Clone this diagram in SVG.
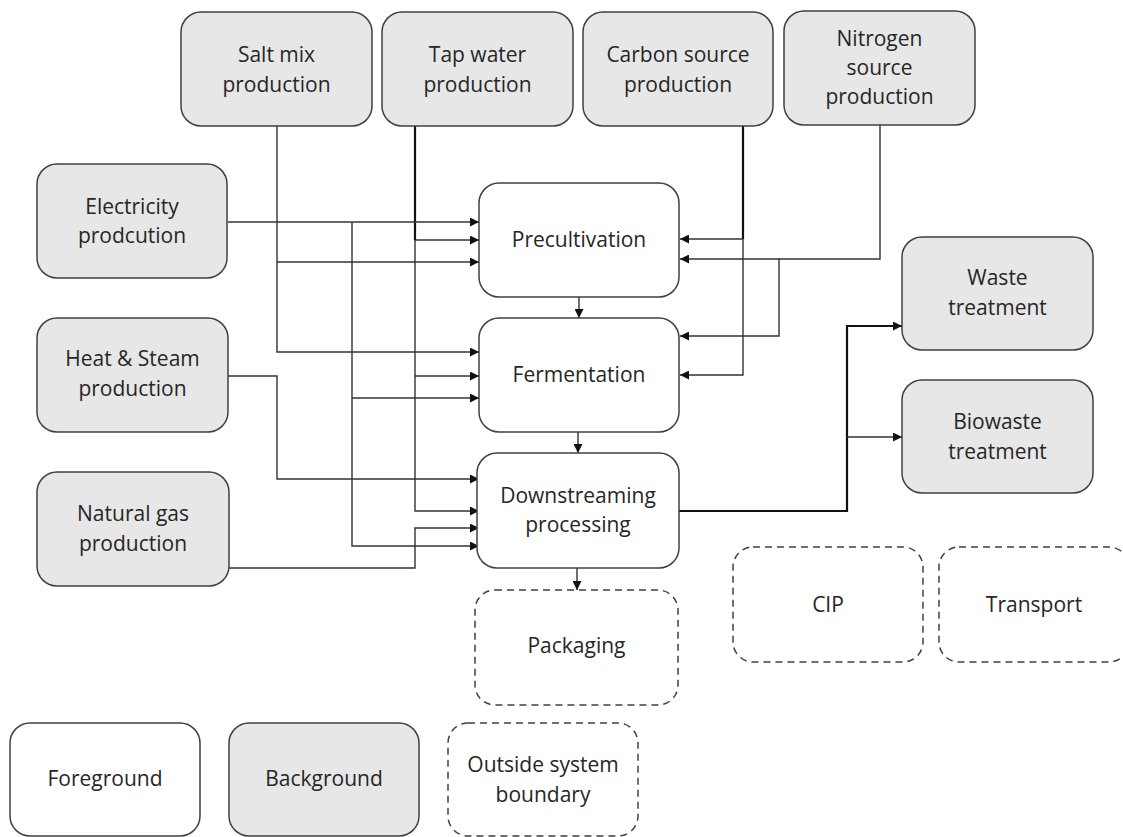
<svg xmlns="http://www.w3.org/2000/svg" width="1123" height="837" viewBox="0 0 1123 837">
<style>
.bg{fill:#e7e7e7;stroke:#404040;stroke-width:1.5}
.fg{fill:#ffffff;stroke:#404040;stroke-width:1.5}
.ob{fill:#ffffff;stroke:#404040;stroke-width:1.5;stroke-dasharray:7,5}
text{font-family:"Open Sans","Liberation Sans",sans-serif;font-size:21px;fill:#262626;text-anchor:middle}
.c{fill:none;stroke:#333;stroke-width:1.4}
.t{fill:none;stroke:#111;stroke-width:2.2}
.a{marker-end:url(#arr)}
</style>
<defs>
<marker id="arr" viewBox="0 0 10 10" refX="10" refY="5" markerWidth="10" markerHeight="9" markerUnits="userSpaceOnUse" orient="auto">
<path d="M0,0 L10,5 L0,10 z" fill="#111"/>
</marker>
</defs>
<g id="connectors">
<path class="c a" d="M277,126 V352 H479"/>
<path class="c a" d="M277,262 H479"/>
<path class="t" d="M415,122 V240"/>
<path class="c a" d="M415,240 V511 H479"/>
<path class="c a" d="M415,240 H479"/>
<path class="c a" d="M415,376 H479"/>
<path class="c a" d="M228,222 H479"/>
<path class="c a" d="M352,222 V546 H479"/>
<path class="c a" d="M352,398 H479"/>
<path class="c a" d="M228,376 H277 V479 H479"/>
<path class="c a" d="M229,568 H415 V528 H479"/>
<path class="t" d="M743,126 V239"/>
<path class="c a" d="M743,239 V375 H680"/>
<path class="c a" d="M743,239 H680"/>
<path class="c a" d="M880,125 V259 H680"/>
<path class="c a" d="M779,259 V336 H680"/>
<path class="c a" d="M579,297 V318"/>
<path class="c a" d="M578,432 V453"/>
<path class="c a" d="M577,568 V590"/>
<path class="t a" d="M679,511 H847 V326 H902"/>
<path class="c a" d="M847,437 H902"/>
</g>
<g id="salt"><rect class="bg" x="181" y="12" width="191" height="114" rx="20"/><text x="276.5" y="62">Salt mix</text><text x="276.5" y="92">production</text></g>
<g id="tap"><rect class="bg" x="382" y="12" width="191" height="114" rx="20"/><text x="477.5" y="62">Tap water</text><text x="477.5" y="92">production</text></g>
<g id="carbon"><rect class="bg" x="583" y="12" width="190" height="114" rx="20"/><text x="678" y="62">Carbon source</text><text x="678" y="92">production</text></g>
<g id="nitrogen"><rect class="bg" x="784" y="11" width="191" height="114" rx="20"/><text x="879.5" y="46">Nitrogen</text><text x="879.5" y="75">source</text><text x="879.5" y="104">production</text></g>
<g id="electricity"><rect class="bg" x="37" y="164" width="190" height="114" rx="20"/><text x="132" y="214">Electricity</text><text x="132" y="243">prodcution</text></g>
<g id="heat"><rect class="bg" x="37" y="318" width="191" height="114" rx="20"/><text x="132.5" y="366">Heat &amp; Steam</text><text x="132.5" y="396">production</text></g>
<g id="gas"><rect class="bg" x="37" y="472" width="192" height="114" rx="20"/><text x="133" y="521">Natural gas</text><text x="133" y="551">production</text></g>
<g id="precultivation"><rect class="fg" x="479" y="183" width="200" height="114" rx="20"/><text x="579" y="247">Precultivation</text></g>
<g id="fermentation"><rect class="fg" x="479" y="318" width="200" height="114" rx="20"/><text x="579" y="382">Fermentation</text></g>
<g id="dsp"><rect class="fg" x="477" y="453" width="202" height="115" rx="20"/><text x="578" y="503">Downstreaming</text><text x="578" y="532">processing</text></g>
<g id="packaging"><rect class="ob" x="475" y="590" width="203" height="115" rx="20"/><text x="576.5" y="653">Packaging</text></g>
<g id="cip"><rect class="ob" x="733" y="547" width="190" height="115" rx="20"/><text x="828" y="612">CIP</text></g>
<g id="transport"><rect class="ob" x="939" y="547" width="190" height="115" rx="20"/><text x="1034" y="612">Transport</text></g>
<g id="waste"><rect class="bg" x="902" y="237" width="191" height="113" rx="20"/><text x="997.5" y="285">Waste</text><text x="997.5" y="315">treatment</text></g>
<g id="biowaste"><rect class="bg" x="902" y="380" width="191" height="113" rx="20"/><text x="997.5" y="429">Biowaste</text><text x="997.5" y="459">treatment</text></g>
<g id="legend-foreground"><rect class="fg" x="10" y="723" width="190" height="113" rx="20"/><text x="105" y="786">Foreground</text></g>
<g id="legend-background"><rect class="bg" x="229" y="723" width="190" height="113" rx="20"/><text x="324" y="786">Background</text></g>
<g id="legend-outside"><rect class="ob" x="448" y="723" width="190" height="113" rx="20"/><text x="543" y="772">Outside system</text><text x="543" y="802">boundary</text></g>
</svg>
